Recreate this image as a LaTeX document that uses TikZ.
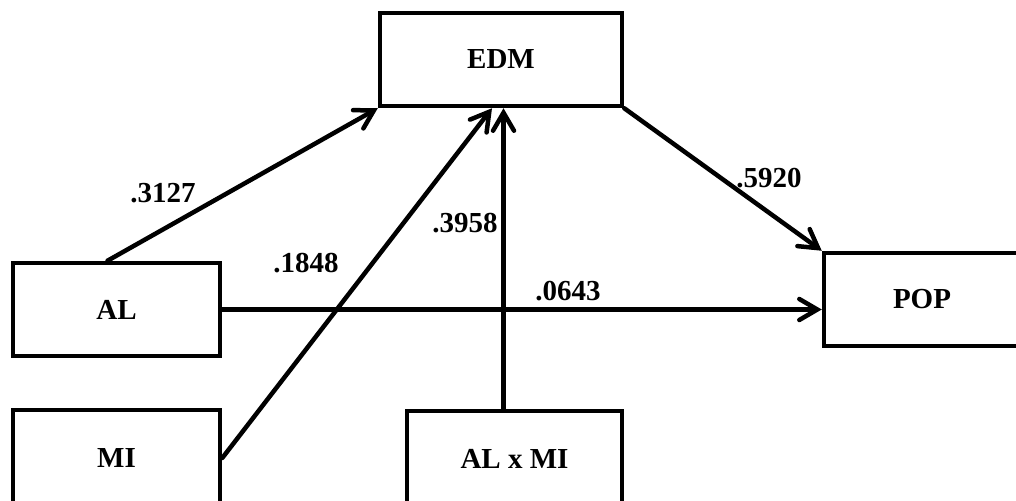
\documentclass[tikz,border=0pt]{standalone}
\usepackage{fontspec}
\setmainfont{Liberation Serif}
\usetikzlibrary{arrows.meta,calc}
\begin{document}
\begin{tikzpicture}[x=1pt,y=-1pt,
  box/.style={draw,line width=4.5pt,rectangle,inner sep=0pt,font=\fontsize{29}{34}\selectfont\bfseries},
  conn/.style={line width=4.5pt,-{Straight Barb[length=18pt,width=21pt,line width=4.5pt,line cap=round]},line cap=round},
  lbl/.style={font=\fontsize{29}{34}\selectfont\bfseries,inner sep=0pt,anchor=base}]
\useasboundingbox (0,0) rectangle (1016,500);
\clip (0,0) rectangle (1016,500);
\node[box,minimum width=242pt,minimum height=93pt] (EDM) at (501,59.5) {EDM};
\node[box,minimum width=207pt,minimum height=93pt] (AL) at (116.5,309.5) {AL};
\node[box,minimum width=207pt,minimum height=96pt] (MI) at (116.5,458) {MI};
\node[box,minimum width=215pt,minimum height=96pt] (ALMI) at (514.5,459) {AL x MI};
\node[box,minimum width=196pt,minimum height=93pt] (POP) at (922,299.5) {POP};
\draw[conn] ([xshift=-9pt]AL.north) -- (EDM.south west);
\draw[conn] (MI.east) -- ([xshift=-9pt]EDM.south);
\draw[conn] ([xshift=-11pt]ALMI.north) -- ([xshift=-11pt]ALMI.north |- EDM.south);
\draw[conn] (EDM.south east) -- (POP.north west);
\draw[conn] (AL.east) -- (AL.east -| POP.west);
\node[lbl] (l1) at (163,202) {.3127};
\node[lbl] (l2) at (306,272) {.1848};
\node[lbl] (l3) at (465,232) {.3958};
\node[lbl] (l4) at (769,187) {.5920};
\node[lbl] (l5) at (568,300) {.0643};
\end{tikzpicture}
\end{document}
